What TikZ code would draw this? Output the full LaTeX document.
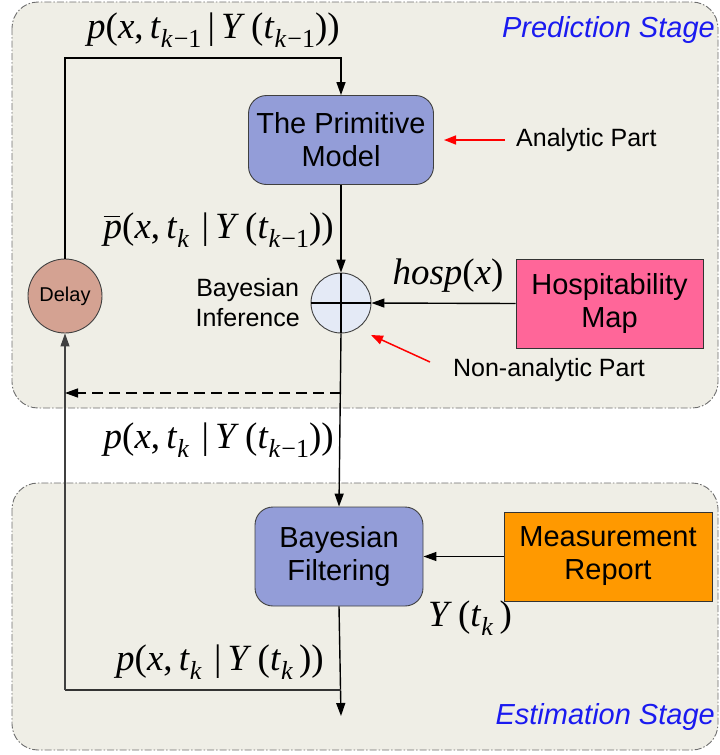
\documentclass[tikz,border=0pt]{standalone}
\usepackage{fontspec}
\setmainfont{Liberation Sans}
\newfontfamily\tms{Liberation Serif}
\usetikzlibrary{arrows.meta,shapes.geometric,calc}
\definecolor{panelfill}{HTML}{EFEEE6}
\definecolor{panelline}{HTML}{6E6E6E}
\definecolor{procfill}{HTML}{939DD8}
\definecolor{sumfill}{HTML}{E4EAF6}
\definecolor{delayfill}{HTML}{D4A292}
\definecolor{hospfill}{HTML}{FF6699}
\definecolor{measfill}{HTML}{FF9900}
\definecolor{stageblue}{HTML}{1A1AF0}
% Times-style formula pieces set in text mode
\newcommand\vi[1]{\textit{#1}}
\newcommand\lsub[1]{\raisebox{-9pt}{\fontsize{26}{26}\selectfont #1}}
\newcommand\kmo{\vi{k}\kern1pt−1}
\newcommand\barp{\rlap{\rule[21pt]{16pt}{1.3pt}}\vi{p}}
\tikzset{
  panel/.style={draw=panelline, fill=panelfill, line width=0.9pt, rounded corners=26pt,
    dash pattern=on 7pt off 2pt on 1.5pt off 2pt},
  procbox/.style={draw=black!75, fill=procfill, rounded corners=18pt, line width=0.9pt,
    align=center, font=\fontsize{29}{33}\selectfont, inner sep=0pt},
  srcbox/.style={draw=black!80, line width=0.9pt, align=center,
    font=\fontsize{29}{33}\selectfont, inner sep=0pt},
  flow/.style={draw=black, line width=1.4pt, -{Triangle[length=13pt,width=9pt]}},
  thinflow/.style={draw=black!75, line width=1.1pt, -{Triangle[length=13pt,width=9pt]}},
  note/.style={red, line width=1.5pt, -{Triangle[length=12pt,width=9pt]}},
  mathlbl/.style={font=\tms\fontsize{37}{40}\selectfont, inner sep=0pt},
  txt/.style={font=\fontsize{25}{30}\selectfont, inner sep=0pt, align=center},
  stage/.style={font=\fontsize{29}{33}\selectfont\itshape, text=stageblue, inner sep=0pt}
}
\begin{document}
\begin{tikzpicture}[x=1pt,y=-1pt]
\useasboundingbox (0,0) rectangle (720,755);
% stage panels
\path[panel] (12,2) rectangle (718,408);
\path[panel] (12,483) rectangle (718,750);
\node[stage, anchor=east] (pstage) at (715,30) {Prediction Stage};
\node[stage, anchor=east] (estage) at (715,717) {Estimation Stage};

% blocks
\node[procbox, minimum width=185pt, minimum height=89pt] (prim) at (341,140)
  {The Primitive\\Model};
\node[circle, draw=black!75, fill=sumfill, line width=0.9pt, minimum size=60pt, inner sep=0pt] (bi) at (341,303) {};
\draw[black, line width=1.1pt] (bi.north) -- (bi.south) (bi.west) -- (bi.east);
\node[circle, draw=black!75, fill=delayfill, line width=0.9pt, minimum size=74pt, inner sep=0pt,
  font=\fontsize{20}{22}\selectfont] (delay) at (65,296) {Delay};
\node[srcbox, fill=hospfill, minimum width=187pt, minimum height=89pt] (hosp) at (609.5,303.5)
  {Hospitability\\Map};
\node[procbox, minimum width=168pt, minimum height=99pt] (bf) at (339,556.5)
  {Bayesian\\Filtering};
\node[srcbox, fill=measfill, minimum width=208pt, minimum height=89pt] (meas) at (608,556.5)
  {Measurement\\Report};

% free ends of the connectors
\coordinate (tl) at (65,58);
\coordinate (tr) at (341,58);
\coordinate (dsrc) at (341,393);
\coordinate (dtgt) at (65,393);
\coordinate (fbr) at (341,690);
\coordinate (fbl) at (65,690);
\coordinate (out) at (341,716);

% connectors
\draw[flow] (delay.north) -- (tl) -- (tr) -- (prim.north);
\draw[flow] (prim.south) -- (bi.north);
\draw[flow] (hosp.west) -- (bi.east);
\draw[flow] (bi.south) -- (bf.north);
\draw[flow] (meas.west) -- (bf.east);
\draw[flow] (bf.south) -- (out);
\draw[black!80, line width=1.1pt] (fbr) -- (fbl);
\draw[thinflow] (fbl) -- (delay.south);
\draw[flow, dash pattern=on 11pt off 6pt] (dsrc) -- (dtgt);

% signal labels
\node[mathlbl, anchor=east] (l1) at (340,30)
  {\vi{p}(\vi{x},\,\vi{t}\lsub{\kmo}\,|\,\vi{Y}\,(\vi{t}\lsub{\kmo}))};
\node[mathlbl, anchor=east] (l2) at (334,230)
  {\barp(\vi{x},\,\vi{t}\lsub{\vi{k}}\,\,|\,\vi{Y}\,(\vi{t}\lsub{\kmo}))};
\node[mathlbl] (l3) at (448,276) {\vi{hosp}(\vi{x})};
\node[mathlbl, anchor=east] (l4) at (334,440)
  {\vi{p}(\vi{x},\,\vi{t}\lsub{\vi{k}}\,\,|\,\vi{Y}\,(\vi{t}\lsub{\kmo}))};
\node[mathlbl] (l5) at (470,618) {\vi{Y}\,(\vi{t}\lsub{\vi{k}}\,)};
\node[mathlbl, anchor=east] (l6) at (324,662)
  {\vi{p}(\vi{x},\,\vi{t}\lsub{\vi{k}}\,\,|\,\vi{Y}\,(\vi{t}\lsub{\vi{k}}\,))};

% annotations
\node[txt, anchor=east] (binf) at (300,303) {Bayesian\\Inference};
\node[txt, anchor=west] (ana) at (516,140) {Analytic Part};
\node[txt] (nonana) at (549,370) {Non-analytic Part};
\coordinate (anatail) at (505,140);
\coordinate (anatip) at (444,140);
\coordinate (nontail) at (430,362);
\coordinate (nontip) at (371,335);
\draw[note] (anatail) -- (anatip);
\draw[note] (nontail) -- (nontip);
\end{tikzpicture}
\end{document}
